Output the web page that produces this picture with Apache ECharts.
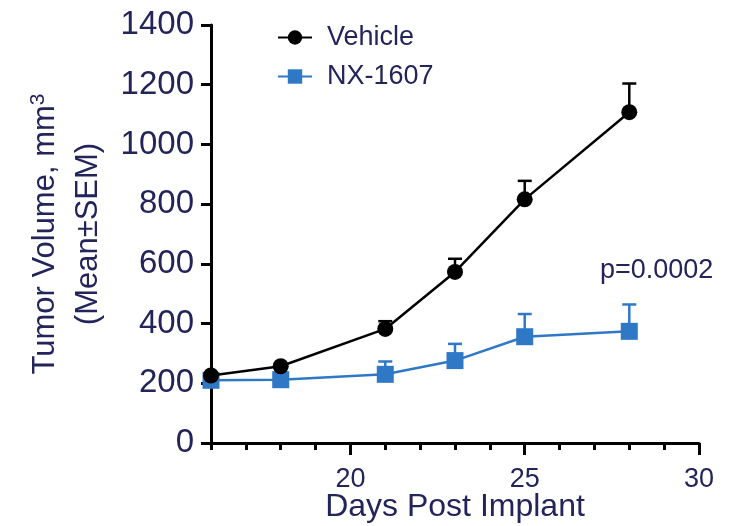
<!DOCTYPE html>
<html>
<head>
<meta charset="utf-8">
<script src="https://cdn.jsdelivr.net/npm/echarts@6/dist/echarts.min.js"></script>
<style>
html, body { margin: 0; padding: 0; background: #fff; }
#main { width: 737px; height: 526px; }
</style>
</head>
<body>
<div id="main"></div>
<script>
// data
var days = [16, 18, 21, 23, 25, 28];
var vehicleMean = [226, 257, 382, 573, 816, 1108];
var vehicleSem = [0, 0, 26, 44, 62, 96];
var nxMean = [210, 212, 230, 276, 356, 374];
var nxSem = [0, 0, 43, 56, 76, 90];
var xLabelDays = [20, 25, 30];

var navy = "#22245a";
var blue = "#2f78c6";
var font = "'Liberation Sans', Arial, Helvetica, sans-serif";

var chart = echarts.init(document.getElementById("main"));

function pairs(means) {
    var out = [];
    for (var i = 0; i < days.length; i++) {
        out.push([days[i], means[i]]);
    }
    return out;
}

//only the upper half of the error bar is drawn
function bars(means, sems) {
    var out = [];
    for (var i = 0; i < days.length; i++) {
        if (sems[i] > 0) {
            out.push([days[i], means[i], means[i] + sems[i]]);
        }
    }
    return out;
}

function errorBar(params, api) {
    var x = api.value(0);
    var p0 = api.coord([x, api.value(1)]);
    var p1 = api.coord([x, api.value(2)]);
    var half = 7;
    var style = { stroke: api.visual("color"), lineWidth: 2.5 };
    return {
        type: "group",
        children: [
            { type: "line", shape: { x1: p0[0], y1: p0[1], x2: p1[0], y2: p1[1] }, style: style },
            { type: "line", shape: { x1: p1[0] - half, y1: p1[1], x2: p1[0] + half, y2: p1[1] }, style: style }
        ]
    };
}

var option = {
    animation: false,
    backgroundColor: "#fff",
    textStyle: { fontFamily: font },
    grid: { left: 211, right: 38, top: 25, bottom: 83, outerBoundsMode: "none" },
    legend: {
        data: ["Vehicle", "NX-1607"],
        orient: "vertical",
        left: 272,
        top: 19,
        itemWidth: 34,
        itemHeight: 18,
        itemGap: 12,
        textStyle: { fontSize: 27, color: navy, fontFamily: font, padding: [0, 0, 0, 10] }
    },
    xAxis: [{
        type: "value",
        min: 16,
        max: 30,
        name: "Days Post Implant",
        nameLocation: "middle",
        nameGap: 48,
        nameMoveOverlap: false,
        nameTextStyle: { fontSize: 32, color: navy, fontFamily: font },
        axisLine: { lineStyle: { color: "#000", width: 3 } },
        axisTick: { length: 12, lineStyle: { color: "#000", width: 3 }, customValues: xLabelDays },
        axisLabel: { fontSize: 27, color: navy, margin: 23, customValues: xLabelDays, fontFamily: font },
        splitLine: { show: false }
    }, {
        // minor ticks every day
        type: "value",
        min: 16,
        max: 30,
        interval: 1,
        position: "bottom",
        axisLine: { show: false },
        axisTick: { length: 7, lineStyle: { color: "#000", width: 3 } },
        axisLabel: { show: false },
        splitLine: { show: false }
    }],
    yAxis: {
        type: "value",
        min: 0,
        max: 1400,
        interval: 200,
        name: "Tumor Volume, mm{sup|3}\n(Mean±SEM)",
        nameLocation: "middle",
        nameRotate: 90,
        nameGap: 98,
        nameTextStyle: {
            fontSize: 31, color: navy, fontFamily: font, lineHeight: 43,
            rich: { sup: { fontSize: 21, color: navy, fontFamily: font, padding: [0, 0, 14, 0] } }
        },
        axisLine: { show: true, lineStyle: { color: "#000", width: 3 } },
        axisTick: { show: true, length: 10, lineStyle: { color: "#000", width: 3 } },
        axisLabel: {
            fontSize: 33, color: navy, margin: 17, fontFamily: font,
            formatter: function (v) { return String(v); }
        },
        splitLine: { show: false }
    },
    graphic: [{
        type: "text",
        left: 600,
        top: 257,
        style: { text: "p=0.0002", fontSize: 27, fill: navy, fontFamily: font }
    }],
    series: [{
        name: "NX-1607 SEM",
        type: "custom",
        renderItem: errorBar,
        itemStyle: { color: blue },
        data: bars(nxMean, nxSem),
        z: 2
    }, {
        name: "NX-1607",
        type: "line",
        data: pairs(nxMean),
        symbol: "rect",
        symbolSize: 17,
        color: blue,
        lineStyle: { color: blue, width: 2.5 },
        itemStyle: { color: blue },
        z: 3
    }, {
        name: "Vehicle SEM",
        type: "custom",
        renderItem: errorBar,
        itemStyle: { color: "#000" },
        data: bars(vehicleMean, vehicleSem),
        z: 4
    }, {
        name: "Vehicle",
        type: "line",
        data: pairs(vehicleMean),
        symbol: "circle",
        symbolSize: 16,
        color: "#000",
        lineStyle: { color: "#000", width: 2.5 },
        itemStyle: { color: "#000" },
        z: 5
    }]
};

chart.setOption(option);
</script>
</body>
</html>
